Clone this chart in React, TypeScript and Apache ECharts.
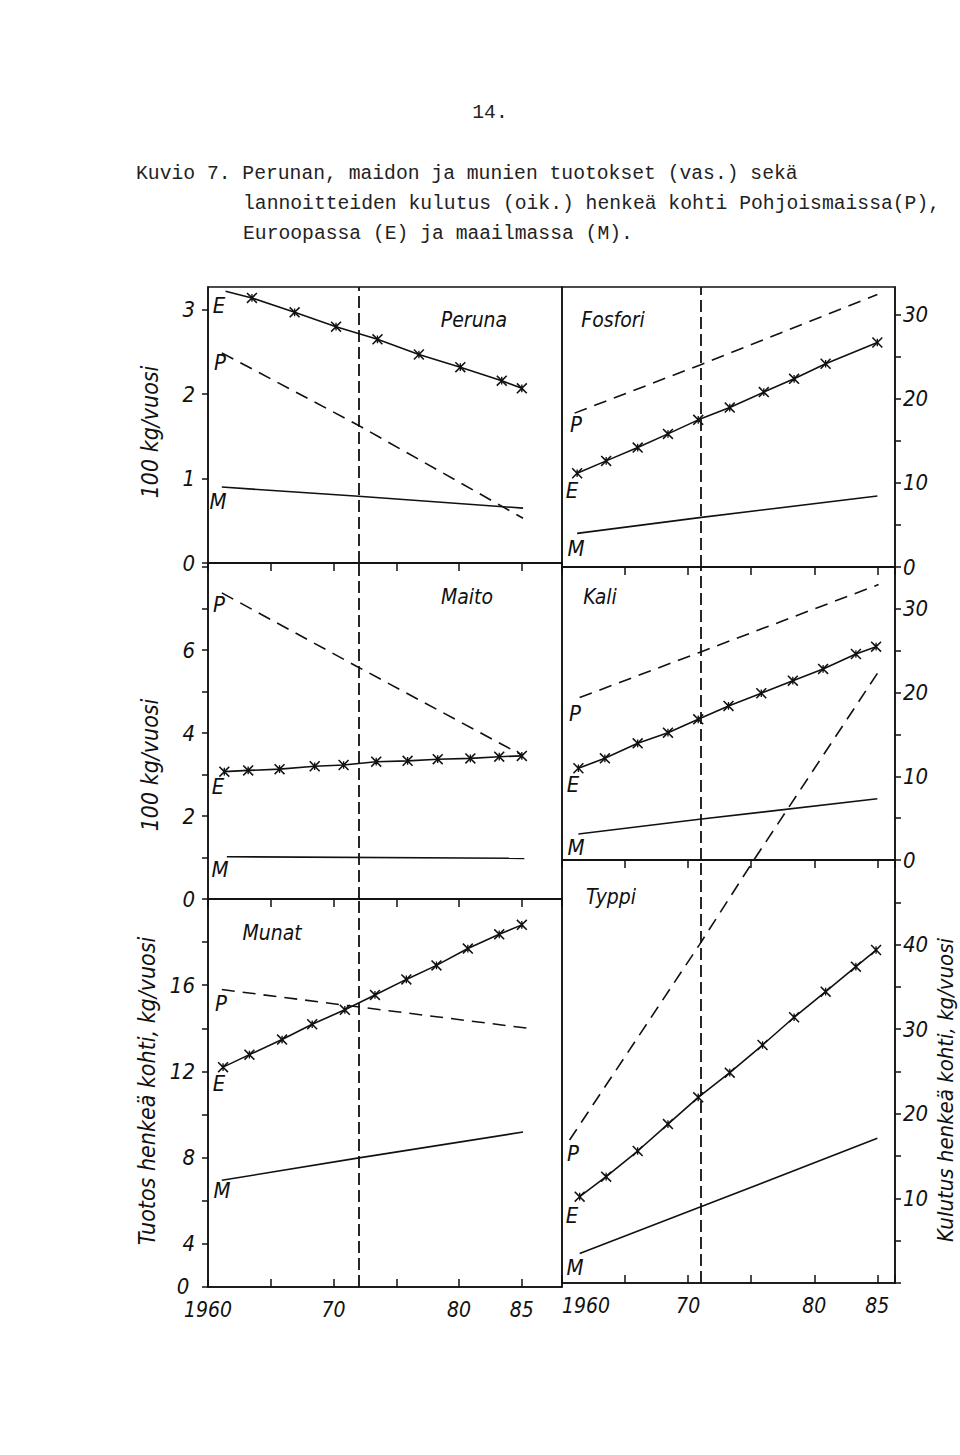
import React, { useEffect, useRef } from 'react';
import * as echarts from 'echarts';

type Pt = [number, number];

const HAND = "'Liberation Sans Narrow', 'DejaVu Sans Condensed', 'DejaVu Sans', sans-serif";
const MONO = "'Liberation Mono', 'DejaVu Sans Mono', monospace";

// ---------- texts ----------
const pageNumber = '14.';
const captionLines = [
  'Kuvio 7. Perunan, maidon ja munien tuotokset (vas.) sekä',
  'lannoitteiden kulutus (oik.) henkeä kohti Pohjoismaissa(P),',
  'Euroopassa (E) ja maailmassa (M).',
];
const yNameLeftTop = '100 kg/vuosi';
const yNameLeftBottom = 'Tuotos henkeä kohti, kg/vuosi';
const yNameRight = 'Kulutus henkeä kohti, kg/vuosi';
const yearTickLabels: Record<number, string> = { 1960: '1960', 1970: '70', 1980: '80', 1985: '85' };

// ---------- axis label values ----------
const perunaTicks = [0, 1, 2, 3];
const maitoTicks = [0, 2, 4, 6];
const munatTicks = [4, 8, 12, 16];
const fosforiTicks = [0, 10, 20, 30];
const kaliTicks = [0, 10, 20, 30];
const typpiTicks = [10, 20, 30, 40];

// ---------- data: [year, value] ----------
// Peruna (100 kg/vuosi)
const perunaP: Pt[] = [[1961.1, 2.49], [1972, 1.63], [1985.1, 0.53]];
const perunaE: Pt[] = [[1961.4, 3.22], [1963.5, 3.14], [1966.9, 2.97], [1970.2, 2.8], [1973.5, 2.65], [1976.8, 2.47], [1980.1, 2.32], [1983.4, 2.16], [1985.0, 2.07]];
const perunaM: Pt[] = [[1961.1, 0.9], [1972, 0.79], [1985.1, 0.65]];
// Maito (100 kg/vuosi)
const maitoP: Pt[] = [[1961.1, 7.38], [1971.9, 5.6], [1985.0, 3.47]];
const maitoE: Pt[] = [[1961.3, 3.07], [1963.2, 3.1], [1965.7, 3.13], [1968.5, 3.2], [1970.8, 3.23], [1973.4, 3.31], [1975.9, 3.33], [1978.3, 3.37], [1980.9, 3.39], [1983.2, 3.43], [1985.0, 3.45]];
const maitoM: Pt[] = [[1961.5, 1.02], [1985.2, 0.98]];
// Munat (kg/vuosi)
const munatP: Pt[] = [[1961.1, 15.8], [1971.9, 15.0], [1985.8, 13.98]];
const munatE: Pt[] = [[1961.2, 12.2], [1963.3, 12.78], [1965.9, 13.48], [1968.3, 14.19], [1970.9, 14.86], [1973.3, 15.55], [1975.8, 16.27], [1978.2, 16.92], [1980.7, 17.7], [1983.2, 18.36], [1985.0, 18.8]];
const munatM: Pt[] = [[1961.1, 6.95], [1971.9, 7.98], [1985.1, 9.19]];
// Fosfori (kg/vuosi)
const fosforiP: Pt[] = [[1961.0, 18.3], [1970.9, 24.0], [1985.0, 32.4]];
const fosforiE: Pt[] = [[1961.2, 11.15], [1963.5, 12.62], [1966.0, 14.2], [1968.4, 15.83], [1970.8, 17.5], [1973.3, 18.96], [1976.0, 20.8], [1978.4, 22.38], [1980.9, 24.17], [1985.0, 26.7]];
const fosforiM: Pt[] = [[1961.2, 4.0], [1970.9, 5.87], [1985.0, 8.45]];
// Kali (kg/vuosi)
const kaliP: Pt[] = [[1961.4, 19.4], [1970.9, 24.8], [1985.1, 32.9]];
const kaliE: Pt[] = [[1961.3, 10.96], [1963.4, 12.15], [1966.0, 13.94], [1968.4, 15.21], [1970.8, 16.81], [1973.2, 18.4], [1975.8, 19.92], [1978.3, 21.42], [1980.7, 22.82], [1983.3, 24.61], [1984.9, 25.48]];
const kaliM: Pt[] = [[1961.3, 3.1], [1970.9, 4.86], [1985.0, 7.32]];
// Typpi (kg/vuosi)
const typpiP: Pt[] = [[1960.6, 16.9], [1970.9, 40.0], [1975.3, 50.2], [1985.2, 72.5]];
const typpiE: Pt[] = [[1961.4, 10.2], [1963.5, 12.57], [1966.0, 15.6], [1968.4, 18.79], [1970.8, 21.95], [1973.3, 24.86], [1975.9, 28.13], [1978.4, 31.41], [1980.9, 34.43], [1983.3, 37.39], [1984.9, 39.36]];
const typpiM: Pt[] = [[1961.4, 3.5], [1970.9, 8.95], [1985.0, 17.1]];

const refYearLeft = 1972;
const refYearRight = 1971;

const CROSS = 'path://M1,0L5,4L9,0L10,1L6,5L10,9L9,10L5,6L1,10L0,9L4,5L0,1Z M4.4,1.5L5.6,1.5L5.6,8.5L4.4,8.5Z';

interface Panel {
  title: string;
  grid: { left: number; top: number; width: number; height: number };
  xMax: number;
  yMin: number;
  yMax: number;
  yInterval: number;
  yLabels: number[];
  side: 'left' | 'right';
  bottom: boolean;
  P: Pt[];
  E: Pt[];
  M: Pt[];
  ref: number;
  titlePos: [number, number];
  letters: { P: [number, number]; E: [number, number]; M: [number, number] };
  firstNoSymbol?: boolean;
  clipP?: boolean;
  minLabelAlign?: string;
}

const panels: Panel[] = [
  {
    title: 'Peruna', grid: { left: 208, top: 287, width: 354, height: 276 }, xMax: 1988.2,
    yMin: 0, yMax: 3.27, yInterval: 1, yLabels: perunaTicks, side: 'left', bottom: false,
    P: perunaP, E: perunaE, M: perunaM, ref: refYearLeft, titlePos: [474, 320],
    letters: { P: [220, 362], E: [219, 305], M: [218, 501] }, firstNoSymbol: true,
  },
  {
    title: 'Maito', grid: { left: 208, top: 563, width: 354, height: 336 }, xMax: 1988.2,
    yMin: 0, yMax: 8.1, yInterval: 1, yLabels: maitoTicks, side: 'left', bottom: false,
    P: maitoP, E: maitoE, M: maitoM, ref: refYearLeft, titlePos: [467, 597],
    letters: { P: [219, 604], E: [218, 786], M: [220, 869] },
  },
  {
    title: 'Munat', grid: { left: 208, top: 899, width: 354, height: 388 }, xMax: 1988.2,
    yMin: 2, yMax: 20, yInterval: 2, yLabels: munatTicks, side: 'left', bottom: true,
    P: munatP, E: munatE, M: munatM, ref: refYearLeft, titlePos: [272, 933],
    letters: { P: [221, 1003], E: [219, 1083], M: [222, 1190] }, minLabelAlign: 'center',
  },
  {
    title: 'Fosfori', grid: { left: 562, top: 287, width: 333, height: 280 }, xMax: 1986.4,
    yMin: 0, yMax: 33.3, yInterval: 5, yLabels: fosforiTicks, side: 'right', bottom: false,
    P: fosforiP, E: fosforiE, M: fosforiM, ref: refYearRight, titlePos: [613, 320],
    letters: { P: [576, 424], E: [572, 490], M: [576, 548] },
  },
  {
    title: 'Kali', grid: { left: 562, top: 567, width: 333, height: 293 }, xMax: 1986.4,
    yMin: 0, yMax: 35, yInterval: 5, yLabels: kaliTicks, side: 'right', bottom: false,
    P: kaliP, E: kaliE, M: kaliM, ref: refYearRight, titlePos: [600, 597],
    letters: { P: [575, 713], E: [573, 784], M: [576, 847] },
  },
  {
    title: 'Typpi', grid: { left: 562, top: 860, width: 333, height: 423 }, xMax: 1986.4,
    yMin: 0, yMax: 50, yInterval: 5, yLabels: typpiTicks, side: 'right', bottom: true,
    P: typpiP, E: typpiE, M: typpiM, ref: refYearRight, titlePos: [611, 897],
    letters: { P: [573, 1153], E: [572, 1215], M: [575, 1267] }, clipP: false, minLabelAlign: 'left',
  },
];

function has(list: number[], v: number) {
  return list.some((t) => Math.abs(t - v) < 1e-6);
}

function buildOption() {
  const grid: any[] = [];
  const xAxis: any[] = [];
  const yAxis: any[] = [];
  const series: any[] = [];
  const graphic: any[] = [];

  const ink = '#111';

  panels.forEach((p, i) => {
    grid.push({
      ...p.grid,
      show: true,
      borderColor: ink,
      borderWidth: 1.5,
      backgroundColor: 'transparent',
      containLabel: false,
      outerBoundsMode: 'none',
    });
    xAxis.push({
      type: 'value',
      gridIndex: i,
      min: 1960,
      max: p.xMax,
      interval: 5,
      axisLine: { show: true, lineStyle: { color: ink, width: 1.5 } },
      axisTick: { show: true, inside: p.bottom, length: 8, lineStyle: { color: ink, width: 1.5 } },
      axisLabel: {
        show: p.bottom,
        margin: 12,
        fontFamily: HAND,
        fontStyle: 'italic',
        fontSize: 21,
        color: ink,
        alignMinLabel: p.minLabelAlign || 'center',
        formatter: (v: number) => yearTickLabels[Math.round(v)] !== undefined && Math.abs(v - Math.round(v)) < 1e-6 ? yearTickLabels[Math.round(v)] : '',
      },
      splitLine: { show: false },
    });
    yAxis.push({
      type: 'value',
      gridIndex: i,
      position: p.side,
      min: p.yMin,
      max: p.yMax,
      interval: p.yInterval,
      axisLine: { show: true, lineStyle: { color: ink, width: 1.5 } },
      axisTick: { show: true, length: 6, lineStyle: { color: ink, width: 1.5 } },
      axisLabel: {
        show: true,
        margin: p.side === 'left' ? 13 : 8,
        fontFamily: HAND,
        fontStyle: 'italic',
        fontSize: 22,
        color: ink,
        showMaxLabel: false,
        formatter: (v: number) => (has(p.yLabels, v) ? String(Math.round(v)) : ''),
      },
      splitLine: { show: false },
    });

    const common = {
      type: 'line',
      xAxisIndex: i,
      yAxisIndex: i,
      silent: true,
      animation: false,
      itemStyle: { color: ink },
    };
    series.push({
      ...common,
      name: p.title + ' P',
      data: p.P,
      symbol: 'none',
      clip: p.clipP === false ? false : true,
      lineStyle: { color: ink, width: 1.6, type: [13, 8] },
    });
    series.push({
      ...common,
      name: p.title + ' E',
      data: p.E.map((pt, k) => (k === 0 && p.firstNoSymbol ? { value: pt, symbol: 'none' } : pt)),
      symbol: CROSS,
      symbolSize: 11,
      showSymbol: true,
      lineStyle: { color: ink, width: 1.6 },
    });
    series.push({
      ...common,
      name: p.title + ' M',
      data: p.M,
      symbol: 'none',
      lineStyle: { color: ink, width: 1.6 },
      markLine: {
        silent: true,
        symbol: ['none', 'none'],
        label: { show: false },
        lineStyle: { color: ink, type: [12, 5], width: 1.8 },
        data: [{ xAxis: p.ref }],
      },
    });

    graphic.push({
      type: 'text',
      x: p.titlePos[0],
      y: p.titlePos[1],
      style: {
        text: p.title,
        fontFamily: HAND,
        fontStyle: 'italic',
        fontSize: 21,
        fill: ink,
        align: 'center',
        verticalAlign: 'middle',
      },
    });
    (['P', 'E', 'M'] as const).forEach((k) => {
      const pos = p.letters[k];
      graphic.push({
        type: 'text',
        x: pos[0],
        y: pos[1],
        style: {
          text: k,
          fontFamily: HAND,
          fontStyle: 'italic',
          fontSize: 22,
          fill: ink,
          align: 'center',
          verticalAlign: 'middle',
        },
      });
    });
  });

  // broken-axis zero at bottom of the Munat panel
  graphic.push({
    type: 'text', x: 183, y: 1286,
    style: { text: '0', fontFamily: HAND, fontStyle: 'italic', fontSize: 22, fill: ink, align: 'center', verticalAlign: 'middle' },
  });

  // axis names
  const nameStyle = { fontFamily: HAND, fontStyle: 'italic', fontSize: 23, fill: ink, align: 'center', verticalAlign: 'middle' };
  graphic.push({ type: 'text', x: 150, y: 432, rotation: Math.PI / 2, style: { ...nameStyle, text: yNameLeftTop } });
  graphic.push({ type: 'text', x: 150, y: 765, rotation: Math.PI / 2, style: { ...nameStyle, text: yNameLeftTop } });
  graphic.push({ type: 'text', x: 147, y: 1091, rotation: Math.PI / 2, style: { ...nameStyle, text: yNameLeftBottom } });
  graphic.push({ type: 'text', x: 945, y: 1090, rotation: Math.PI / 2, style: { ...nameStyle, fontSize: 22, text: yNameRight } });

  // page number and caption
  const mono = { fontFamily: MONO, fontSize: 19.7, fill: '#222', verticalAlign: 'middle' };
  graphic.push({ type: 'text', x: 490, y: 113, style: { ...mono, text: pageNumber, align: 'center' } });
  graphic.push({ type: 'text', x: 136, y: 174, style: { ...mono, text: captionLines[0], align: 'left' } });
  graphic.push({ type: 'text', x: 243, y: 204, style: { ...mono, text: captionLines[1], align: 'left' } });
  graphic.push({ type: 'text', x: 243, y: 234, style: { ...mono, text: captionLines[2], align: 'left' } });

  return {
    animation: false,
    backgroundColor: '#ffffff',
    grid,
    xAxis,
    yAxis,
    series,
    graphic,
  };
}

export default function App() {
  const ref = useRef<HTMLDivElement>(null);
  useEffect(() => {
    if (!ref.current) return;
    const chart = echarts.init(ref.current, undefined, { renderer: 'svg' });
    chart.setOption(buildOption() as any);
    return () => chart.dispose();
  }, []);
  return (
    <div
      ref={ref}
      style={{ position: 'absolute', left: 0, top: 0, width: 960, height: 1455, background: '#fff' }}
    />
  );
}
